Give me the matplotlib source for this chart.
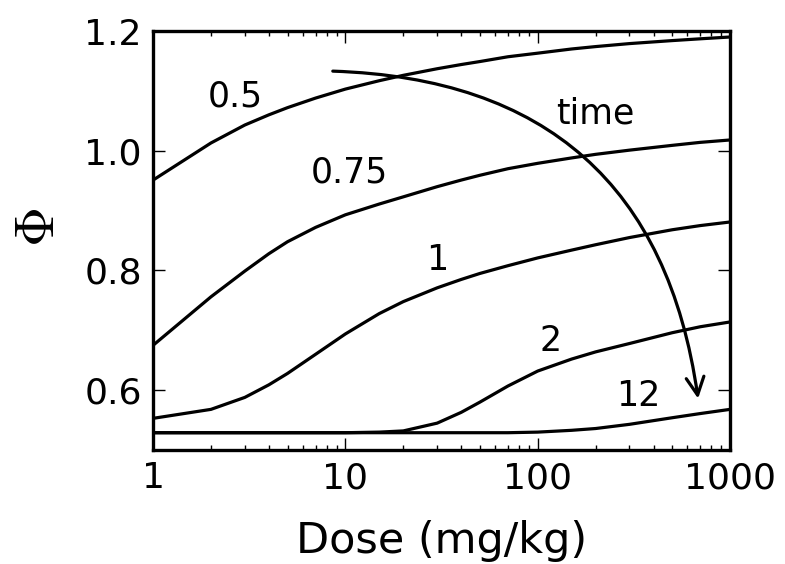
import matplotlib
matplotlib.use("Agg")
import matplotlib.pyplot as plt

plt.rcParams["font.family"] = ["DejaVu Sans"]
plt.rcParams["mathtext.fontset"] = "cm"

# dose grid (mg/kg)
doses = [1, 2, 3, 4, 5, 7, 10, 15, 20, 30, 40, 50, 70, 100, 150, 200, 300, 500, 700, 1000]

# Phi for each time point
phi_t05 = [0.951, 1.013, 1.043, 1.060, 1.072, 1.088, 1.103, 1.117, 1.126, 1.137, 1.144,
           1.149, 1.157, 1.163, 1.170, 1.174, 1.179, 1.184, 1.187, 1.190]
phi_t075 = [0.675, 0.756, 0.799, 0.828, 0.848, 0.872, 0.893, 0.911, 0.923, 0.940, 0.951,
            0.959, 0.970, 0.979, 0.988, 0.994, 1.001, 1.009, 1.014, 1.018]
phi_t1 = [0.553, 0.568, 0.588, 0.609, 0.628, 0.660, 0.694, 0.728, 0.748, 0.771, 0.785,
          0.795, 0.808, 0.821, 0.834, 0.843, 0.855, 0.868, 0.875, 0.881]
phi_t2 = [0.529, 0.529, 0.529, 0.529, 0.529, 0.529, 0.529, 0.530, 0.532, 0.545, 0.563,
          0.580, 0.607, 0.632, 0.652, 0.664, 0.678, 0.696, 0.706, 0.714]
phi_t12 = [0.529, 0.529, 0.529, 0.529, 0.529, 0.529, 0.529, 0.529, 0.529, 0.529, 0.529,
           0.529, 0.529, 0.530, 0.533, 0.536, 0.543, 0.554, 0.561, 0.568]

curve_labels = ["0.5", "0.75", "1", "2", "12"]
label_x = [2.67, 10.45, 30, 117, 333]
label_y = [1.091, 0.964, 0.817, 0.682, 0.590]

fig = plt.figure(figsize=(7.85, 5.64), dpi=100)
ax = fig.add_axes([0.195, 0.202, 0.735, 0.743])

for phi in [phi_t05, phi_t075, phi_t1, phi_t2, phi_t12]:
    ax.plot(doses, phi, color="black", lw=2.3)

for lab, lx, ly in zip(curve_labels, label_x, label_y):
    ax.text(lx, ly, lab, fontsize=25, ha="center", va="center")

ax.text(199, 1.063, "time", fontsize=25, ha="center", va="center")
ax.annotate("", xy=(682, 0.586), xytext=(8.6, 1.133),
            arrowprops=dict(arrowstyle="->", connectionstyle="arc3,rad=-0.42",
                            lw=2.3, color="black", shrinkA=0, shrinkB=0,
                            mutation_scale=32))

ax.set_xscale("log")
ax.set_xlim(1, 1000)
ax.set_ylim(0.5, 1.2)
ax.set_xticks([1, 10, 100, 1000])
ax.set_xticklabels(["1", "10", "100", "1000"])
ax.set_yticks([0.6, 0.8, 1.0, 1.2])
ax.set_yticklabels(["0.6", "0.8", "1.0", "1.2"])

ax.tick_params(which="both", direction="in", top=True, right=True, width=1)
ax.tick_params(which="major", length=8.5, labelsize=26, pad=8)
ax.tick_params(which="minor", length=3.5)
for sp in ax.spines.values():
    sp.set_linewidth(2.4)

ax.set_xlabel("Dose (mg/kg)", fontsize=31, labelpad=18)
ax.set_ylabel(r"$\Phi$", fontsize=40)
ax.yaxis.set_label_coords(-0.151, 0.531)

fig.savefig("out.png", dpi=100)
